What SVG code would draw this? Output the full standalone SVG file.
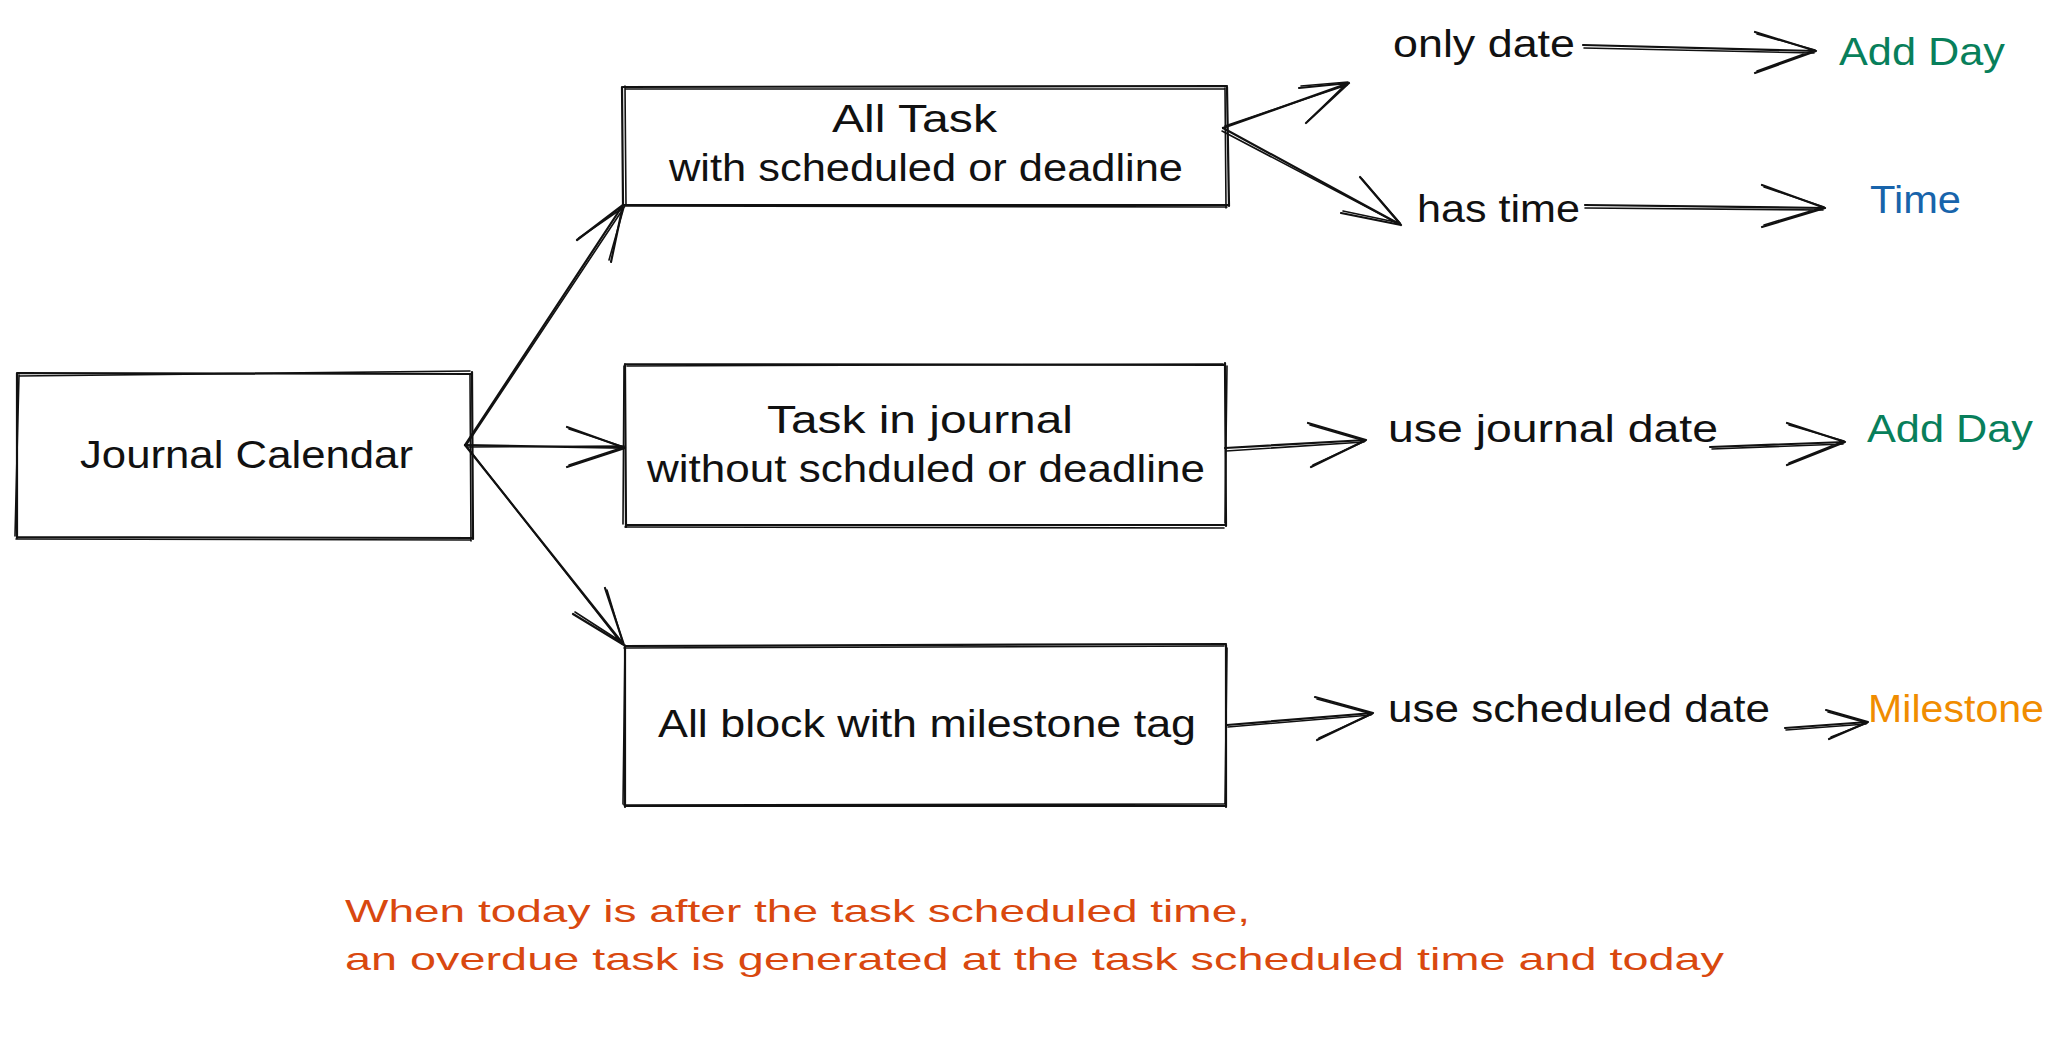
<svg xmlns="http://www.w3.org/2000/svg" width="2068" height="1056" viewBox="0 0 2068 1056">
<style>
.bg{fill:#ffffff}
.s{fill:none;stroke:#111111;stroke-width:2.2;stroke-linecap:round;stroke-linejoin:round}
.s2{fill:none;stroke:#111111;stroke-width:1.6;stroke-linecap:round;stroke-linejoin:round}
.t{font-family:"Liberation Sans","Noto Sans",sans-serif;font-size:38px;fill:#111111}
.green{fill:#087f5b}
.blue{fill:#1864ab}
.orange{fill:#f08c00}
.note{font-family:"Liberation Sans","Noto Sans",sans-serif;font-size:32px;fill:#d9480f}
</style>
<rect class="bg" x="0" y="0" width="2068" height="1056"/>

<g id="node-journal-calendar">
<path class="s" d="M17 373 L472 374 M472 372 L473 539 M473 538 L18 537 M17 538 L17 373"/>
<path class="s2" d="M19 376 L470 371 M470 375 L471 541 M470 540 L16 539 M15 536 L19 375"/>
<text class="t" x="80" y="468" textLength="333" lengthAdjust="spacingAndGlyphs">Journal Calendar</text>
</g>

<g id="node-all-task">
<path class="s" d="M623 87 L1227 86 M1227 87 L1229 206 M1229 205 L624 205 M623 205 L622 87"/>
<path class="s2" d="M625 89 L1225 89 M1225 88 L1226 208 M1227 207 L626 206 M626 206 L625 86"/>
<text class="t" x="832" y="132" textLength="165" lengthAdjust="spacingAndGlyphs">All Task</text>
<text class="t" x="669" y="181" textLength="514" lengthAdjust="spacingAndGlyphs">with scheduled or deadline</text>
</g>

<g id="node-task-in-journal">
<path class="s" d="M625 364 L1225 365 M1225 363 L1226 526 M1226 525 L626 525 M626 527 L625 364"/>
<path class="s2" d="M627 366 L1223 364 M1227 366 L1225 523 M1224 528 L625 527 M623 524 L624 366"/>
<text class="t" x="767" y="433" textLength="306" lengthAdjust="spacingAndGlyphs">Task in journal</text>
<text class="t" x="647" y="482" textLength="558" lengthAdjust="spacingAndGlyphs">without schduled or deadline</text>
</g>

<g id="node-milestone-block">
<path class="s" d="M625 646 L1226 644 M1226 645 L1226 807 M1226 806 L626 806 M625 807 L625 646"/>
<path class="s2" d="M624 648 L1224 646 M1227 648 L1225 804 M1224 804 L624 805 M623 804 L625 645"/>
<text class="t" x="658" y="737" textLength="538" lengthAdjust="spacingAndGlyphs">All block with milestone tag</text>
</g>

<g id="node-only-date">
<text class="t" x="1393" y="57" textLength="182" lengthAdjust="spacingAndGlyphs">only date</text>
</g>
<g id="node-has-time">
<text class="t" x="1417" y="222" textLength="163" lengthAdjust="spacingAndGlyphs">has time</text>
</g>
<g id="node-add-day-1">
<text class="t green" x="1839" y="65" textLength="166" lengthAdjust="spacingAndGlyphs">Add Day</text>
</g>
<g id="node-time">
<text class="t blue" x="1870" y="213" textLength="91" lengthAdjust="spacingAndGlyphs">Time</text>
</g>
<g id="node-use-journal-date">
<text class="t" x="1388" y="442" textLength="330" lengthAdjust="spacingAndGlyphs">use journal date</text>
</g>
<g id="node-add-day-2">
<text class="t green" x="1867" y="442" textLength="166" lengthAdjust="spacingAndGlyphs">Add Day</text>
</g>
<g id="node-use-scheduled-date">
<text class="t" x="1388" y="722" textLength="382" lengthAdjust="spacingAndGlyphs">use scheduled date</text>
</g>
<g id="node-milestone">
<text class="t orange" x="1868" y="722" textLength="176" lengthAdjust="spacingAndGlyphs">Milestone</text>
</g>

<g id="note">
<text class="note" x="345" y="922" textLength="905" lengthAdjust="spacingAndGlyphs">When today is after the task scheduled time,</text>
<text class="note" x="345" y="970" textLength="1379" lengthAdjust="spacingAndGlyphs">an overdue task is generated at the task scheduled time and today</text>
</g>

<g id="connectors">
<path class="s" d="M465 445 L623 205 M577 240 L623 205 L611 262"/>
<path class="s2" d="M467 444 L625 206 M579 238 L624 207 L609 260"/>
<path class="s" d="M465 445 L625 448 M567 427 L625 448 L567 467"/>
<path class="s2" d="M467 447 L624 446 M569 429 L624 447 L569 465"/>
<path class="s" d="M465 445 L624 645 M573 614 L624 645 L605 588"/>
<path class="s2" d="M467 447 L622 644 M575 612 L623 643 L607 590"/>
<path class="s" d="M1223 128 L1349 83 M1299 88 L1349 83 L1306 123"/>
<path class="s2" d="M1225 126 L1347 85 M1301 86 L1348 82 L1308 121"/>
<path class="s" d="M1223 128 L1401 225 M1360 177 L1401 225 L1341 213"/>
<path class="s2" d="M1222 131 L1399 224 M1362 179 L1400 223 L1343 211"/>
<path class="s" d="M1583 45 L1816 51 M1755 32 L1816 51 L1755 73"/>
<path class="s2" d="M1584 48 L1814 53 M1757 34 L1815 50 L1757 71"/>
<path class="s" d="M1585 205 L1825 208 M1762 185 L1825 208 L1762 227"/>
<path class="s2" d="M1585 208 L1823 210 M1764 187 L1824 207 L1764 225"/>
<path class="s" d="M1225 448 L1366 440 M1308 423 L1366 440 L1311 467"/>
<path class="s2" d="M1226 451 L1364 442 M1310 425 L1365 441 L1313 465"/>
<path class="s" d="M1710 447 L1845 442 M1787 423 L1845 442 L1787 465"/>
<path class="s2" d="M1712 449 L1843 444 M1789 425 L1844 441 L1789 463"/>
<path class="s" d="M1227 725 L1373 713 M1315 697 L1373 713 L1317 740"/>
<path class="s2" d="M1228 727 L1371 715 M1317 699 L1372 714 L1319 738"/>
<path class="s" d="M1785 728 L1868 722 M1826 710 L1868 722 L1829 739"/>
<path class="s2" d="M1786 730 L1866 724 M1828 712 L1867 723 L1831 737"/>
</g>
</svg>
